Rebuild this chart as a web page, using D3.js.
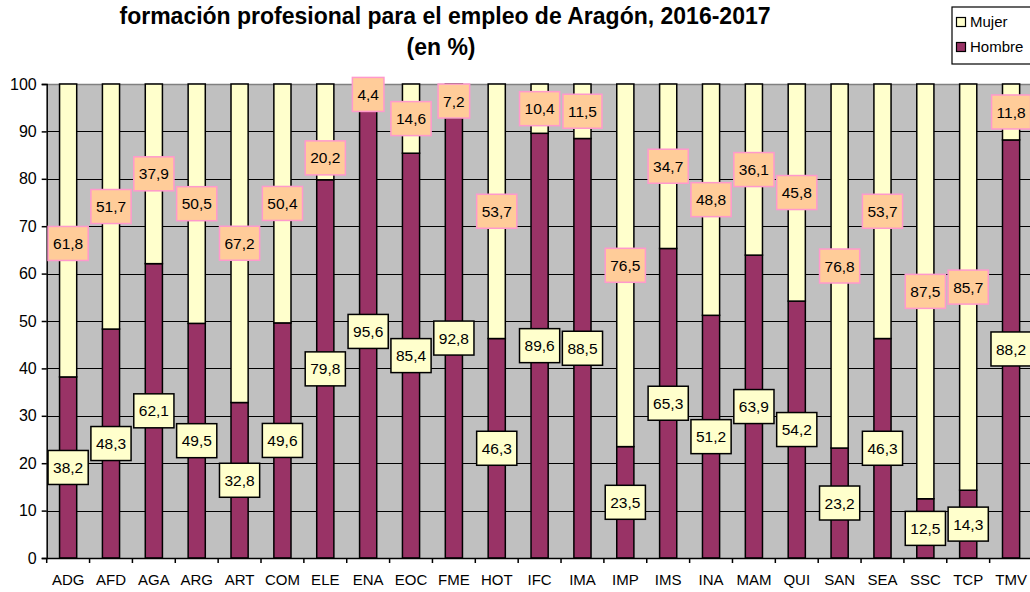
<!doctype html>
<html>
<head>
<meta charset="utf-8">
<script src="https://cdn.jsdelivr.net/npm/d3@7"></script>
<style>
  body { margin: 0; background: #fff; }
  svg { display: block; font-family: Arial, "Liberation Sans", sans-serif; }
</style>
</head>
<body>
<svg id="chart" width="1030" height="592"></svg>
<script>
// familias profesionales
const familias = ["ADG","AFD","AGA","ARG","ART","COM","ELE","ENA","EOC","FME","HOT","IFC",
                  "IMA","IMP","IMS","INA","MAM","QUI","SAN","SEA","SSC","TCP","TMV"];
const hombre = [38.2,48.3,62.1,49.5,32.8,49.6,79.8,95.6,85.4,92.8,46.3,89.6,
                88.5,23.5,65.3,51.2,63.9,54.2,23.2,46.3,12.5,14.3,88.2];
const mujer  = [61.8,51.7,37.9,50.5,67.2,50.4,20.2,4.4,14.6,7.2,53.7,10.4,
                11.5,76.5,34.7,48.8,36.1,45.8,76.8,53.7,87.5,85.7,11.8];
const yTicks = [0,10,20,30,40,50,60,70,80,90,100];

// a couple of labels were moved by hand in the original (px, downwards)
const nudgeMujer = {ADG: 13, ELE: 26};

const colHombre = "#993366", colMujer = "#FFFFCC";
const fmt = (v) => v.toFixed(1).replace(".", ",");

const svg = d3.select("#chart");
const plotL = 46.7, plotT = 84, plotB = 558, plotR = 1032.5;

const x = d3.scaleBand().domain(familias).range([plotL, plotR])
    .paddingInner(0.6).paddingOuter(0.3);
const y = d3.scaleLinear().domain([0, 100]).range([plotB, plotT]);

const rows = familias.map((f, i) => ({f, h: hombre[i], m: mujer[i]}));

// plot area
svg.append("rect")
    .attr("x", plotL).attr("y", plotT)
    .attr("width", plotR - plotL).attr("height", plotB - plotT)
    .attr("fill", "#C0C0C0");

svg.append("g")
  .selectAll("line")
  .data(yTicks.filter((d) => d > 0 && d < 100))
  .join("line")
    .attr("x1", plotL).attr("x2", plotR)
    .attr("y1", (d) => Math.round(y(d)) + 0.5).attr("y2", (d) => Math.round(y(d)) + 0.5)
    .attr("stroke", "#000").attr("stroke-width", 1.2);

svg.append("line")
    .attr("x1", plotL).attr("x2", plotR)
    .attr("y1", plotT + 0.5).attr("y2", plotT + 0.5)
    .attr("stroke", "#808080").attr("stroke-width", 1.5);

// bars
const bars = svg.append("g").attr("stroke", "#000").attr("stroke-width", 1.5);
bars.selectAll(".h").data(rows).join("rect").attr("class", "h")
    .attr("x", (d) => x(d.f)).attr("width", x.bandwidth())
    .attr("y", (d) => y(d.h)).attr("height", (d) => y(0) - y(d.h))
    .attr("fill", colHombre);
bars.selectAll(".m").data(rows).join("rect").attr("class", "m")
    .attr("x", (d) => x(d.f)).attr("width", x.bandwidth())
    .attr("y", (d) => y(d.h + d.m)).attr("height", (d) => y(d.h) - y(d.h + d.m))
    .attr("fill", colMujer);

// axes
const yAxis = svg.append("g")
    .attr("transform", `translate(${plotL},0)`)
    .call(d3.axisLeft(y).tickValues(yTicks).tickSize(5).tickPadding(5));
const xAxis = svg.append("g")
    .attr("transform", `translate(0,${plotB})`)
    .call(d3.axisBottom(x).tickSize(0).tickPadding(16));
[yAxis, xAxis].forEach((g) => {
  g.select(".domain").attr("stroke", "#000").attr("stroke-width", 1.5);
  g.selectAll("line").attr("stroke", "#000").attr("stroke-width", 1.5);
  g.selectAll("text").attr("fill", "#000").attr("font-size", 16)
      .attr("font-family", "Arial, 'Liberation Sans', sans-serif");
});
xAxis.selectAll("text").attr("font-size", 15);
// category boundary ticks
svg.append("g")
  .selectAll("line")
  .data(familias)
  .join("line")
    .attr("x1", (d) => x(d) - x.step() * 0.3).attr("x2", (d) => x(d) - x.step() * 0.3)
    .attr("y1", plotB).attr("y2", plotB + 5)
    .attr("stroke", "#000").attr("stroke-width", 1.5);

// data labels
function labels(key, fill, stroke, center, nudge) {
  const g = svg.append("g")
    .selectAll("g")
    .data(rows)
    .join("g")
      .attr("transform", (d) => `translate(${x(d.f) + x.bandwidth() / 2},${center(d) + (nudge[d.f] || 0)})`);
  g.append("text")
      .attr("text-anchor", "middle").attr("dy", "0.36em")
      .attr("font-size", 15.5).attr("fill", "#000")
      .text((d) => fmt(d[key]));
  g.insert("rect", "text")
      .each(function() {
        const w = this.nextSibling.getComputedTextLength() + 10;
        d3.select(this).attr("x", -w / 2).attr("width", w);
      })
      .attr("y", -17).attr("height", 34)
      .attr("fill", fill).attr("stroke", stroke).attr("stroke-width", 1.5);
}
labels("h", "#FFFFCC", "#000", (d) => y(d.h / 2), {});
labels("m", "#FFCC99", "#FF99CC", (d) => y(d.h + d.m / 2), nudgeMujer);

// title
svg.append("text")
    .attr("x", 445).attr("y", 24)
    .attr("text-anchor", "middle").attr("font-weight", "bold").attr("font-size", 23)
    .text("formación profesional para el empleo de Aragón, 2016-2017");
svg.append("text")
    .attr("x", 441).attr("y", 55)
    .attr("text-anchor", "middle").attr("font-weight", "bold").attr("font-size", 23)
    .text("(en %)");

// legend
const leg = svg.append("g").attr("transform", "translate(952,7)");
leg.append("rect").attr("width", 80).attr("height", 57)
    .attr("fill", "#fff").attr("stroke", "#000").attr("stroke-width", 1.2);
const items = [["Mujer", colMujer], ["Hombre", colHombre]];
const li = leg.selectAll(".item").data(items).join("g")
    .attr("transform", (d, i) => `translate(4,${15 + i * 25})`);
li.append("rect").attr("x", 0.5).attr("y", -4.5).attr("width", 9).attr("height", 9)
    .attr("fill", (d) => d[1]).attr("stroke", "#000").attr("stroke-width", 1.2);
li.append("text").attr("x", 14).attr("dy", "0.35em").attr("font-size", 15)
    .text((d) => d[0]);
</script>
</body>
</html>
